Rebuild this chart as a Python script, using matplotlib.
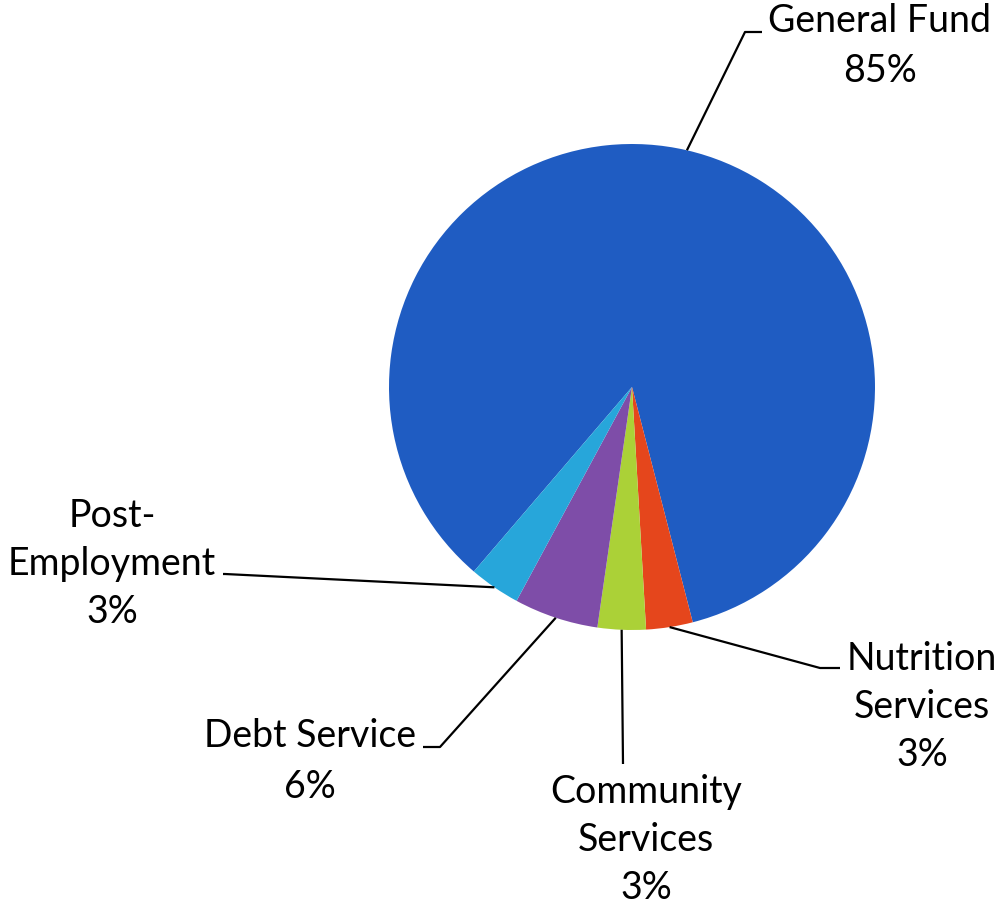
import matplotlib.pyplot as plt
import numpy as np

# slices in clockwise order, starting with the big one
labels = ['General Fund', 'Nutrition Services', 'Community Services', 'Debt Service', 'Post-Employment']
shares = [84.7, 3.1, 3.2, 5.6, 3.4]
pct_text = ['85%', '3%', '3%', '6%', '3%']
colors = ['#1F5CC2', '#E5461C', '#ABD137', '#7E4DA8', '#27A6DA']

# label text lines, as broken in the picture
label_lines = [
	['General Fund', '85%'],
	['Nutrition', 'Services', '3%'],
	['Community', 'Services', '3%'],
	['Debt Service', '6%'],
	['Post-', 'Employment', '3%'],
]

W, H = 998, 909
cx, cy, R = 632, 387, 243  # pie centre and radius in pixels

def px(x, y):
	return (x - cx) / R, (cy - y) / R

# layout: first baseline, centre x, line step, leader elbow and end (pixels)
layout = [
	dict(x=880, y=32, step=50, elbow=(745, 32), end=(762, 32)),
	dict(x=922, y=670, step=48, elbow=(820, 668), end=(840, 668)),
	dict(x=646, y=803, step=48, elbow=(623, 764), end=(623, 764)),
	dict(x=310, y=747, step=51, elbow=(440, 747), end=(423, 747)),
	dict(x=112, y=527, step=48, elbow=(225, 574), end=(223, 574)),
]

fig = plt.figure(figsize=(W / 100, H / 100), dpi=100)
ax = fig.add_axes([0, 0, 1, 1])

wedges, _ = ax.pie(shares, colors=colors, startangle=229.4, counterclock=False,
	radius=1.0, wedgeprops=dict(linewidth=0))

ax.set_xlim(-cx / R, (W - cx) / R)
ax.set_ylim(-(H - cy) / R, cy / R)
ax.axis('off')

font = dict(family=['Lato', 'DejaVu Sans'], fontsize=27, color='black')

for w, lines, lay in zip(wedges, label_lines, layout):
	mid = np.deg2rad((w.theta1 + w.theta2) / 2.0)
	ex, ey = np.cos(mid), np.sin(mid)
	bx, by = px(*lay['elbow'])
	tx, ty = px(*lay['end'])
	ax.plot([ex, bx, tx], [ey, by, ty], color='black', lw=1.6, solid_capstyle='butt')
	for i, s in enumerate(lines):
		x, y = px(lay['x'], lay['y'] + i * lay['step'])
		ax.text(x, y, s, ha='center', va='baseline', **font)

fig.savefig('out.png', dpi=100)
